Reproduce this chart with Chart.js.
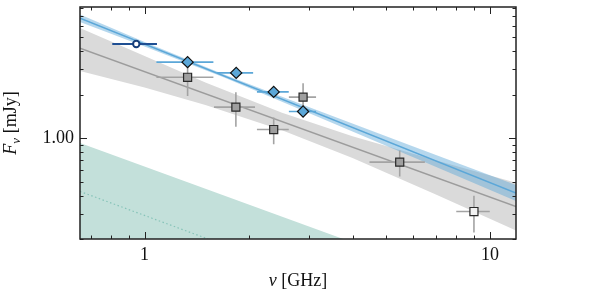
<!DOCTYPE html>
<html><head><meta charset="utf-8">
<script src="https://cdn.jsdelivr.net/npm/chart.js@4.4.1/dist/chart.umd.min.js"></script>
<style>html,body{margin:0;padding:0;background:#fff;}</style>
</head><body>
<canvas id="c" width="598" height="290" style="width:598px;height:290px;display:block"></canvas>
<script>
// ---- tick labels ----
const xTickValues = [1, 10];
const xTickLabels = ['1', '10'];
const xMinorTicks = [0.7, 0.8, 0.9, 2, 3, 4, 5, 6, 7, 8, 9];
const yTickValues = [1];
const yTickLabels = ['1.00'];
const yMinorTicks = [0.2, 0.3, 0.4, 0.5, 0.6, 0.7, 0.8, 0.9, 2, 3, 4, 5, 6, 7, 8];

// ---- measurements ----
const circleX = [0.946];
const circleY = [4.49];
const circleXErr = [0.14];

const diamondX = [1.332, 1.842, 2.365, 2.877];
const diamondY = [3.36, 2.83, 2.09, 1.528];
const diamondXErr = [0.25, 0.22, 0.25, 0.26];

const squareX = [1.332, 1.838, 2.365, 2.877, 5.48];
const squareY = [2.64, 1.639, 1.147, 1.922, 0.682];
const squareXErr = [0.25, 0.25, 0.25, 0.26, 1.0];
const squareYErr = [0.68, 0.44, 0.24, 0.48, 0.14];

const openSquareX = [8.99];
const openSquareY = [0.31];
const openSquareXErr = [1.0];
const openSquareYErr = [0.088];

// ---- fitted models ----
const blueFitX = [0.65, 11.9];
const blueFitY = [6.77, 0.416];
const blueBandX = [0.65, 1.0, 1.7, 3.0, 6.0, 11.9];
const blueBandUpper = [7.18, 4.64, 2.76, 1.636, 0.875, 0.473];
const blueBandLower = [6.38, 4.32, 2.63, 1.489, 0.736, 0.367];

const grayFitX = [0.65, 11.9];
const grayFitY = [4.20, 0.336];
const grayBandX = [0.65, 1.0, 1.5, 2.5, 4.0, 7.0, 11.9];
const grayBandUpper = [5.8, 3.71, 2.43, 1.496, 1.032, 0.70, 0.49];
const grayBandLower = [2.92, 2.245, 1.694, 1.135, 0.727, 0.405, 0.229];

const tealX = [0.65, 3.76];
const tealY = [0.924, 0.2];
const dottedX = [0.65, 1.526];
const dottedY = [0.427, 0.2];

// ---- helpers to build datasets ----
const pts = (xs, ys) => xs.map((v, i) => ({x: v, y: ys[i]}));
function errSegments(xs, ys, xe, ye) {
  const out = [];
  xs.forEach((v, i) => {
    if (xe) { out.push({x: v - xe[i], y: ys[i]}, {x: v + xe[i], y: ys[i]}, {x: v, y: null}); }
    if (ye) { out.push({x: v, y: ys[i] - ye[i]}, {x: v, y: ys[i] + ye[i]}, {x: v, y: null}); }
  });
  return out;
}

const BLUE = '#5ba7d8';
const base = {type: 'line', pointRadius: 0, fill: false, tension: 0, spanGaps: false};

const datasets = [
  {...base, label: 'teal', data: pts(tealX, tealY), borderWidth: 0, borderColor: 'rgba(0,0,0,0)',
   backgroundColor: '#c3e0da', fill: 'start', order: 20, clip: 0},
  {...base, label: 'dotted', data: pts(dottedX, dottedY), borderWidth: 1.2, borderColor: '#86c3b8',
   borderDash: [1.5, 2.5], order: 19},
  {...base, label: 'grayUpper', data: pts(grayBandX, grayBandUpper), borderWidth: 0, borderColor: 'rgba(0,0,0,0)',
   backgroundColor: '#dadada', fill: '+1', order: 18, clip: 0},
  {...base, label: 'grayLower', data: pts(grayBandX, grayBandLower), borderWidth: 0, borderColor: 'rgba(0,0,0,0)', order: 17},
  {...base, label: 'grayFit', data: pts(grayFitX, grayFitY), borderWidth: 1.4, borderColor: '#9c9c9c', order: 16},
  {...base, label: 'blueUpper', data: pts(blueBandX, blueBandUpper), borderWidth: 0, borderColor: 'rgba(0,0,0,0)',
   backgroundColor: 'rgba(91,167,216,0.45)', fill: '+1', order: 15, clip: 0},
  {...base, label: 'blueLower', data: pts(blueBandX, blueBandLower), borderWidth: 0, borderColor: 'rgba(0,0,0,0)', order: 14},
  {...base, label: 'blueFit', data: pts(blueFitX, blueFitY), borderWidth: 1.6, borderColor: BLUE, order: 13},
  {...base, label: 'sqErr', data: errSegments(squareX, squareY, squareXErr, squareYErr), borderWidth: 1.6, borderColor: '#a3a3a3', order: 12},
  {...base, label: 'openSqErr', data: errSegments(openSquareX, openSquareY, openSquareXErr, openSquareYErr), borderWidth: 1.6, borderColor: '#a3a3a3', order: 11},
  {...base, label: 'diaErr', data: errSegments(diamondX, diamondY, diamondXErr, null), borderWidth: 1.6, borderColor: BLUE, order: 10},
  {...base, label: 'circErr', data: errSegments(circleX, circleY, circleXErr, null), borderWidth: 2, borderColor: '#1f4f93', order: 9},
  {...base, label: 'squares', data: pts(squareX, squareY), showLine: false, pointStyle: 'rect', pointRadius: 5.7,
   pointBackgroundColor: '#9f9f9f', pointBorderColor: '#2a2a2a', pointBorderWidth: 1.2, order: 4},
  {...base, label: 'openSquares', data: pts(openSquareX, openSquareY), showLine: false, pointStyle: 'rect', pointRadius: 5.7,
   pointBackgroundColor: '#f2f2f2', pointBorderColor: '#2a2a2a', pointBorderWidth: 1.2, order: 3},
  {...base, label: 'diamonds', data: pts(diamondX, diamondY), showLine: false, pointStyle: 'rectRot', pointRadius: 5.6,
   pointBackgroundColor: BLUE, pointBorderColor: '#111', pointBorderWidth: 1.2, order: 2},
  {...base, label: 'circle', data: pts(circleX, circleY), showLine: false, pointStyle: 'circle', pointRadius: 3.2,
   pointBackgroundColor: '#ffffff', pointBorderColor: '#173e7a', pointBorderWidth: 2, order: 1}
];

const FONT = 'Liberation Serif';

const frameTicks = {
  id: 'frameTicks',
  afterDatasetsDraw(chart) {
    const {ctx, chartArea: a, scales: {x, y}} = chart;
    ctx.save();
    ctx.strokeStyle = '#222';
    ctx.lineWidth = 1;
    const seg = (x1, y1, x2, y2) => { ctx.beginPath(); ctx.moveTo(x1, y1); ctx.lineTo(x2, y2); ctx.stroke(); };
    const xt = (v, len) => { const p = Math.round(x.getPixelForValue(v)) + 0.5; seg(p, a.bottom, p, a.bottom - len); seg(p, a.top, p, a.top + len); };
    const yt = (v, len) => { const p = Math.round(y.getPixelForValue(v)) + 0.5; seg(a.left, p, a.left + len, p); seg(a.right, p, a.right - len, p); };
    xTickValues.forEach(v => xt(v, 7));
    xMinorTicks.forEach(v => xt(v, 3.5));
    yTickValues.forEach(v => yt(v, 7));
    yMinorTicks.forEach(v => yt(v, 3.5));
    ctx.lineWidth = 1.5;
    ctx.strokeRect(a.left, a.top, a.right - a.left, a.bottom - a.top);

    // axis titles
    ctx.fillStyle = '#111';
    ctx.textBaseline = 'alphabetic';
    const cx = (a.left + a.right) / 2;
    ctx.font = 'italic 18px "' + FONT + '"';
    const w1 = ctx.measureText('\u03bd').width;
    ctx.font = '18px "' + FONT + '"';
    const w2 = ctx.measureText(' [GHz]').width;
    let sx = cx - (w1 + w2) / 2;
    ctx.textAlign = 'left';
    ctx.font = 'italic 18px "' + FONT + '"';
    ctx.fillText('\u03bd', sx, 286);
    ctx.font = '18px "' + FONT + '"';
    ctx.fillText(' [GHz]', sx + w1, 286);

    ctx.save();
    ctx.translate(16, (a.top + a.bottom) / 2);
    ctx.rotate(-Math.PI / 2);
    ctx.font = 'italic 18px "' + FONT + '"';
    const f1 = ctx.measureText('F').width;
    ctx.font = 'italic 13px "' + FONT + '"';
    const f2 = ctx.measureText('\u03bd').width;
    ctx.font = '18px "' + FONT + '"';
    const f3 = ctx.measureText(' [mJy]').width;
    let tx = -(f1 + f2 + f3) / 2;
    ctx.font = 'italic 18px "' + FONT + '"';
    ctx.fillText('F', tx, 0);
    ctx.font = 'italic 13px "' + FONT + '"';
    ctx.fillText('\u03bd', tx + f1, 4);
    ctx.font = '18px "' + FONT + '"';
    ctx.fillText(' [mJy]', tx + f1 + f2, 0);
    ctx.restore();
    ctx.restore();
  }
};

new Chart(document.getElementById('c'), {
  type: 'line',
  data: {datasets},
  options: {
    responsive: false,
    devicePixelRatio: 1,
    animation: false,
    events: [],
    layout: {padding: {left: 0, top: 7, right: 82, bottom: 0}},
    plugins: {legend: {display: false}, tooltip: {enabled: false}},
    scales: {
      x: {
        type: 'logarithmic', min: 0.65, max: 11.9, bounds: 'data',
        grid: {display: false, drawTicks: false}, border: {display: false},
        ticks: {font: {family: FONT, size: 18}, color: '#111', padding: 5, maxRotation: 0, autoSkip: false,
                callback: (v, i) => xTickLabels[i]},
        afterBuildTicks: s => { s.ticks = xTickValues.map(v => ({value: v})); },
        afterFit: s => { s.height = 51; s.paddingLeft = 0; s.paddingRight = 0; }
      },
      y: {
        type: 'logarithmic', min: 0.2, max: 8.1, bounds: 'data',
        grid: {display: false, drawTicks: false}, border: {display: false},
        ticks: {font: {family: FONT, size: 18}, color: '#111', padding: 6, autoSkip: false,
                callback: (v, i) => yTickLabels[i]},
        afterBuildTicks: s => { s.ticks = yTickValues.map(v => ({value: v})); },
        afterFit: s => { s.width = 80; s.paddingTop = 0; s.paddingBottom = 0; }
      }
    }
  },
  plugins: [frameTicks]
});
</script>
</body></html>
